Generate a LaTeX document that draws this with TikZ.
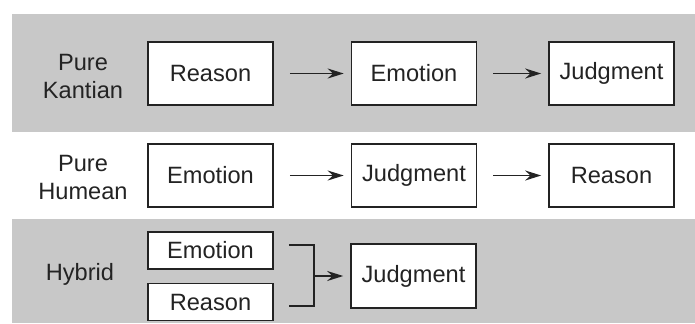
\documentclass[tikz,border=0pt]{standalone}
\usepackage{fontspec}
\setmainfont{Liberation Sans}
\usepackage{tikz}
\usetikzlibrary{positioning,arrows.meta}

\definecolor{bandgray}{RGB}{200,200,200}
\definecolor{inkgray}{RGB}{35,35,35}

\tikzset{
  stagebox/.style={draw=inkgray,line width=0.8pt,fill=white,text=inkgray,
    minimum width=62.5pt,minimum height=31.5pt,inner sep=0pt},
  smallbox/.style={stagebox,minimum height=18.5pt},
  rowlabel/.style={align=center,text=inkgray,inner sep=0pt},
  flow/.style={-{Stealth[length=8pt,width=5pt]},draw=inkgray,line width=0.8pt,
    shorten <=8pt,shorten >=3.5pt}
}

\begin{document}
\begin{tikzpicture}[x=0.5pt,y=-0.5pt,font=\fontsize{11.8}{14}\selectfont]
\useasboundingbox (0,0) rectangle (695,323);
% shaded bands
\fill[bandgray] (12,14) rectangle (695,132);
\fill[bandgray] (12,219) rectangle (695,323);

% Pure Kantian row
\node[rowlabel] (kant) at (83,76) {Pure\\Kantian};
\foreach \n/\x/\word in {1/210.5/Reason,2/414/Emotion,3/611.5/Judgment}
  \node[stagebox] (k\n) at (\x,73.5) {\word};
\draw[flow] (k1) -- (k2);
\draw[flow] (k2) -- (k3);

% Pure Humean row
\node[rowlabel] (hume) at (83,177) {Pure\\Humean};
\foreach \n/\x/\word in {1/210.5/Emotion,2/414/Judgment,3/611.5/Reason}
  \node[stagebox] (h\n) at (\x,175.5) {\word};
\draw[flow] (h1) -- (h2);
\draw[flow] (h2) -- (h3);

% Hybrid row
\node[rowlabel] (hyb) at (80,274) {Hybrid};
\node[smallbox] (hemo) at (210.5,250.5) {Emotion};
\node[smallbox] (hrea) at (210.5,302) {Reason};
\node[stagebox,minimum height=32pt] (hjud) at (413.5,276) {Judgment};
\coordinate (join) at ([xshift=20pt]hemo.east |- hjud.west);
\draw[inkgray,line width=0.8pt] ([xshift=7.5pt,yshift=2.75pt]hemo.east) -| (join)
  |- ([xshift=7.5pt,yshift=-2pt]hrea.east);
\draw[flow,shorten <=0pt] (join) -- (hjud);
\end{tikzpicture}
\end{document}
